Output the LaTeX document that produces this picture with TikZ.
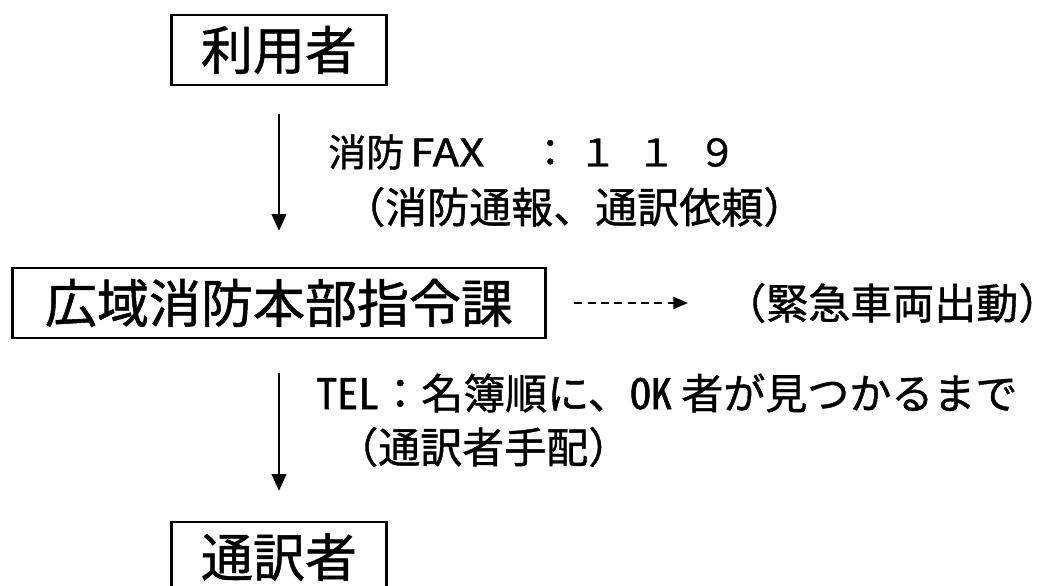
\documentclass[tikz,border=0pt]{standalone}
\usepackage{fontspec}
\setmainfont{Noto Sans CJK JP}[FakeBold=1]
\newfontfamily\hw{Noto Sans CJK JP}[RawFeature=+hwid, FakeBold=1]
\usetikzlibrary{arrows.meta}

\begin{document}
\begin{tikzpicture}[x=0.75pt,y=-0.75pt]
  \tikzstyle{box}=[draw, line width=1.8pt, inner sep=0pt, minimum height=52.5pt, font=\fontsize{39}{39}\selectfont]
  \tikzstyle{note}=[anchor=west, inner sep=0pt, font=\fontsize{31.5}{32}\selectfont]
  \tikzstyle{flow}=[line width=1.3pt, -{Triangle[width=11pt,length=12.5pt]}]
  \clip (0,0) rectangle (1037,585);
  % the three stations
  \node[box, minimum width=161.25pt] (User) at (279,50) {利用者};
  \node[box, minimum width=399.75pt] (Hq) at (279,303) {広域消防本部指令課};
  \node[box, minimum width=161.25pt] (Interp) at (279,557) {通訳者};
  % labels
  \node[note, font=\fontsize{28.5}{30}\selectfont] (FaxA) at (328,152)
    {\makebox[151.5pt][l]{消防\hspace{4.5pt}\scalebox{1.15}[1]{FAX}}\makebox[30pt][c]{：}%
     \makebox[41.25pt][c]{１}\makebox[46.5pt][c]{１}\makebox[45pt][c]{９}};
  \node[note] (FaxB) at (343,207) {（消防通報、通訳依頼）};
  \node[note] (Dispatch) at (724,303) {（緊急車両出動\makebox[9pt][l]{）}};
  \node[note] (TelA) at (316,393) {{\hw TEL}：名簿順に、{\hw OK} 者が見つかるまで};
  \node[note] (TelB) at (336,447) {（通訳者手配）};
  % arrows
  \draw[flow, shorten <=21pt, shorten >=27pt] (User) -- (Hq);
  \draw[flow, shorten <=25.5pt, shorten >=22.5pt] (Hq) -- (Interp);
  \draw[line width=1.6pt, dash pattern=on 6pt off 4pt, -{Triangle[width=9pt,length=11pt]},
        shorten <=20.6pt, shorten >=27pt] (Hq.east) -- (Dispatch.west);
\end{tikzpicture}
\end{document}
